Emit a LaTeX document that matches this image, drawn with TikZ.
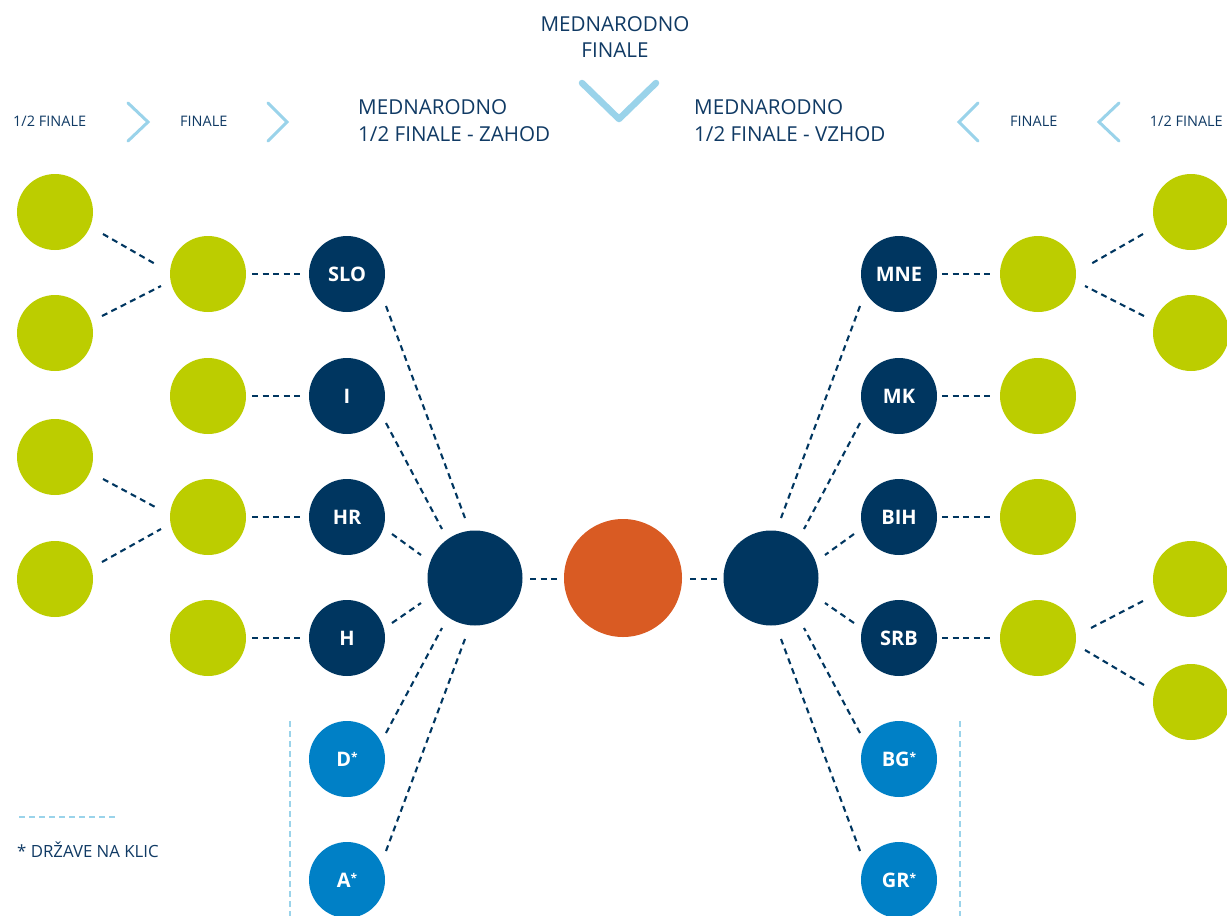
\documentclass[tikz,border=0pt]{standalone}
\usepackage{fontspec}
\setmainfont{Open Sans}
\usetikzlibrary{calc}
\definecolor{cLime}{RGB}{188,205,0}
\definecolor{cNavy}{RGB}{0,54,96}
\definecolor{cBlue}{RGB}{0,128,198}
\definecolor{cOrange}{RGB}{217,91,35}
\definecolor{cLBlue}{RGB}{154,211,234}
\definecolor{cText}{RGB}{16,58,100}
\newcommand{\mystar}{\raisebox{5pt}{\fontsize{12}{12}\selectfont *}}
\begin{document}
\begin{tikzpicture}[x=1pt,y=-1pt,
  circ/.style={circle,inner sep=0pt,minimum size=76pt,font=\fontsize{20}{24}\selectfont\bfseries,text=white},
  gcirc/.style={circ,fill=cLime},
  ncirc/.style={circ,fill=cNavy},
  bcirc/.style={circ,fill=cBlue},
  conn/.style={draw=cNavy,line width=2.1pt,dash pattern=on 6pt off 4.5pt},
  chev/.style={draw=cLBlue,line width=3pt,line cap=round,line join=miter},
  sepline/.style={draw=cLBlue,line width=1.6pt,dash pattern=on 6pt off 4pt},
  small/.style={font=\fontsize{14.5}{17}\selectfont,text=cText,inner sep=0pt},
  head/.style={font=\fontsize{20.6}{24}\selectfont,text=cText,inner sep=0pt},
  legend/.style={font=\fontsize{16.8}{19}\selectfont,text=cText,inner sep=0pt}
]
\useasboundingbox (0,0) rectangle (1227,916);

% ---------- headers ----------
\node[head,anchor=base] (t1) at (615,31) {MEDNARODNO};
\node[head,anchor=base] (t2) at (615,57) {FINALE};
\node[head,anchor=base west] (z1) at (358,114) {MEDNARODNO};
\node[head,anchor=base west] (z2) at (358,141) {1/2 FINALE - ZAHOD};
\node[head,anchor=base west] (v1) at (694,114) {MEDNARODNO};
\node[head,anchor=base west] (v2) at (694,141) {1/2 FINALE - VZHOD};
\node[small,anchor=base west] (s1) at (13,126) {1/2 FINALE};
\node[small,anchor=base west] (s2) at (180,126) {FINALE};
\node[small,anchor=base west] (s3) at (1010,126) {FINALE};
\node[small,anchor=base east] (s4) at (1223,126) {1/2 FINALE};

% chevrons
\draw[chev] (128,103) -- (148,122) -- (128,141);
\draw[chev] (268,103) -- (287,122) -- (268,141);
\draw[chev] (978,103) -- (959,122) -- (978,141);
\draw[chev] (1119,103) -- (1099,122) -- (1119,141);
\draw[chev,line width=6.5pt,line cap=round,line join=round] (582,83) -- (619,119) -- (656,83);

% ---------- nodes left ----------
\node[gcirc] (L1a) at (55,212) {};
\node[gcirc] (L1b) at (55,333) {};
\node[gcirc] (L1c) at (55,457) {};
\node[gcirc] (L1d) at (55,579) {};
\node[gcirc] (L2a) at (208,274) {};
\node[gcirc] (L2b) at (208,396) {};
\node[gcirc] (L2c) at (208,517) {};
\node[gcirc] (L2d) at (208,638) {};
\node[ncirc] (SLO) at (347,274) {SLO};
\node[ncirc] (I) at (347,396) {I};
\node[ncirc] (HR) at (347,517) {HR};
\node[ncirc] (H) at (347,638) {H};
\node[bcirc] (D) at (347,759) {D\mystar};
\node[bcirc] (A) at (347,880) {A\mystar};
\node[circ,fill=cNavy,minimum size=95pt] (LS) at (475,578) {};
\node[circ,fill=cOrange,minimum size=118pt] (F) at (623,578) {};
\node[circ,fill=cNavy,minimum size=95pt] (RS) at (771,578) {};

% ---------- nodes right ----------
\node[ncirc] (MNE) at (899,274) {MNE};
\node[ncirc] (MK) at (899,396) {MK};
\node[ncirc] (BIH) at (899,517) {BIH};
\node[ncirc] (SRB) at (899,638) {SRB};
\node[bcirc] (BG) at (899,759) {BG\mystar};
\node[bcirc] (GR) at (899,880) {GR\mystar};
\node[gcirc] (R2a) at (1038,274) {};
\node[gcirc] (R2b) at (1038,396) {};
\node[gcirc] (R2c) at (1038,517) {};
\node[gcirc] (R2d) at (1038,638) {};
\node[gcirc] (R1a) at (1191,212) {};
\node[gcirc] (R1b) at (1191,333) {};
\node[gcirc] (R1c) at (1191,579) {};
\node[gcirc] (R1d) at (1191,702) {};

% ---------- connectors left ----------
\draw[conn] ($(L1a)+(48,22)$) -- ($(L2a)+(-51,-9)$);
\draw[conn] ($(L1b)+(47,-17)$) -- ($(L2a)+(-47,12)$);
\draw[conn] ($(L1c)+(48,22)$) -- ($(L2c)+(-51,-9)$);
\draw[conn] ($(L1d)+(47,-17)$) -- ($(L2c)+(-47,12)$);
\draw[conn] ($(L2a)+(44,0)$) -- ($(SLO)+(-43,0)$);
\draw[conn] ($(L2b)+(44,0)$) -- ($(I)+(-43,0)$);
\draw[conn] ($(L2c)+(44,0)$) -- ($(HR)+(-43,0)$);
\draw[conn] ($(L2d)+(44,0)$) -- ($(H)+(-43,0)$);
\draw[conn] ($(SLO)+(39,32)$) -- ($(LS)+(-10,-60)$);
\draw[conn] ($(I)+(39,27)$) -- ($(LS)+(-33,-49)$);
\draw[conn] ($(HR)+(45,17)$) -- ($(LS)+(-54,-23)$);
\draw[conn] ($(H)+(45,-15)$) -- ($(LS)+(-54,25)$);
\draw[conn] ($(D)+(39,-26)$) -- ($(LS)+(-33,50)$);
\draw[conn] ($(A)+(39,-29)$) -- ($(LS)+(-10,61)$);
\draw[conn] ($(LS)+(55,1)$) -- ($(F)+(-66,1)$);

% ---------- connectors right ----------
\draw[conn] ($(F)+(67,1)$) -- ($(RS)+(-54,1)$);
\draw[conn] ($(MNE)+(-39,32)$) -- ($(RS)+(10,-60)$);
\draw[conn] ($(MK)+(-39,27)$) -- ($(RS)+(33,-49)$);
\draw[conn] ($(BIH)+(-45,17)$) -- ($(RS)+(54,-23)$);
\draw[conn] ($(SRB)+(-45,-15)$) -- ($(RS)+(54,25)$);
\draw[conn] ($(BG)+(-39,-26)$) -- ($(RS)+(33,50)$);
\draw[conn] ($(GR)+(-39,-29)$) -- ($(RS)+(10,61)$);
\draw[conn] ($(MNE)+(43,0)$) -- ($(R2a)+(-44,0)$);
\draw[conn] ($(MK)+(43,0)$) -- ($(R2b)+(-44,0)$);
\draw[conn] ($(BIH)+(43,0)$) -- ($(R2c)+(-44,0)$);
\draw[conn] ($(SRB)+(43,0)$) -- ($(R2d)+(-44,0)$);
\draw[conn] ($(R1a)+(-48,22)$) -- ($(R2a)+(51,-9)$);
\draw[conn] ($(R1b)+(-47,-17)$) -- ($(R2a)+(47,12)$);
\draw[conn] ($(R1c)+(-48,22)$) -- ($(R2d)+(51,-9)$);
\draw[conn] ($(R1d)+(-47,-17)$) -- ($(R2d)+(47,12)$);

% ---------- separators and legend ----------
\draw[sepline] (290,721) -- (290,916);
\draw[sepline] (960,721) -- (960,916);
\draw[sepline] (19,817) -- (117,817);
\node[legend,anchor=base west] (leg) at (17,857) {* DRŽAVE NA KLIC};
\end{tikzpicture}
\end{document}
